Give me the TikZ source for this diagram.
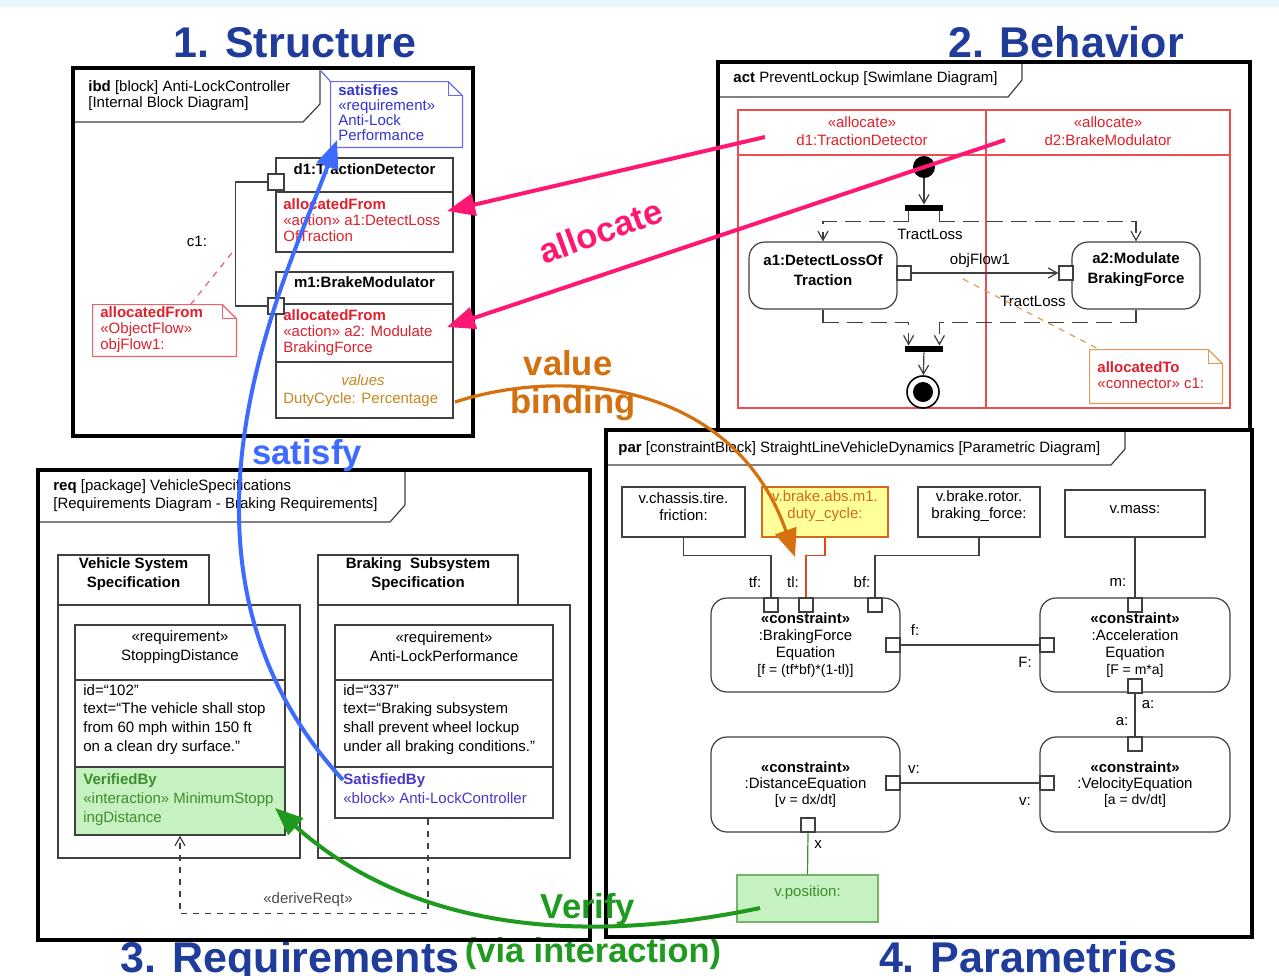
\documentclass[tikz,border=0pt]{standalone}
\usepackage{fontspec}
\setmainfont{Liberation Sans}
\usepackage{tikz}
\usetikzlibrary{arrows.meta, positioning, fit, calc}
\definecolor{hdblue}{HTML}{1F3C9B}
\definecolor{allocpink}{HTML}{FF1773}
\definecolor{bindorange}{HTML}{D4700E}
\definecolor{satblue}{HTML}{3D6BFF}
\definecolor{verifgreen}{HTML}{1E9A1E}
\definecolor{allocred}{HTML}{E0202C}
\definecolor{lanered}{HTML}{E85050}
\definecolor{noteblue}{HTML}{3535D0}
\definecolor{noteline}{HTML}{6A6AF0}
\definecolor{reqgreenfill}{HTML}{C5F2C0}
\definecolor{reqgreen}{HTML}{3E8E2E}
\definecolor{dutyfill}{HTML}{FFFF99}
\definecolor{dutyline}{HTML}{D2691E}
\definecolor{valtext}{HTML}{C8871E}
\definecolor{satbytext}{HTML}{4A38C8}
\definecolor{topband}{HTML}{E6F7FB}
\newcommand\dtxt{\fontsize{7.5}{8}\selectfont}
\newcommand\rtxt{\fontsize{7.5}{9.3}\selectfont}
\newcommand\bigtxt{\fontsize{17.3}{19}\selectfont\bfseries}
\newcommand\headtxt{\fontsize{21.5}{24}\selectfont\bfseries}
\newcommand\foldnote[2]{%
  \draw[#2, line width=0.6pt] (#1.north west) -- ([xshift=-7pt]#1.north east) -- ([yshift=-7pt]#1.north east) -- (#1.south east) -- (#1.south west) -- cycle;
  \draw[#2, line width=0.6pt] ([xshift=-7pt]#1.north east) |- ([yshift=-7pt]#1.north east);}
\tikzset{
  frm/.style={draw=black, line width=1.6pt, inner sep=0pt},
  cell/.style={draw=black!75, line width=0.6pt, inner sep=0pt, font=\dtxt, align=center},
  cblk/.style={cell, rounded corners=8pt},
  ctxt/.style={align=center, inner sep=0pt, font=\fontsize{7.5}{8.5}\selectfont},
  port/.style={draw=black!75, fill=white, line width=0.6pt, minimum size=7pt, inner sep=0pt},
  txt/.style={font=\dtxt, align=left, anchor=north west, inner sep=0pt},
  lbl/.style={font=\dtxt, inner sep=1pt},
  conn/.style={draw=black!75, line width=0.6pt},
  vee/.style={-{Straight Barb[length=4.5pt,width=5pt]}},
  flowdash/.style={dash pattern=on 8pt off 4pt},
  lane/.style={draw=lanered, line width=0.6pt, inner sep=0pt},
  notebox/.style={inner sep=0pt},
  bar/.style={fill=black, minimum width=19pt, minimum height=3pt, inner sep=0pt},
  bigarr/.style={line width=2pt, -{Triangle[length=14pt,width=11pt]}},
  heading/.style={font=\headtxt, text=hdblue, anchor=base},
  biglbl/.style={font=\bigtxt},
}
\begin{document}
\begin{tikzpicture}[x=0.5pt, y=-0.5pt]
\useasboundingbox (0,0) rectangle (1279,975);
\fill[white] (0,0) rectangle (1279,975);
\fill[topband] (0,0) rectangle (1279,7);

% headings
\node[heading] (hstruct) at (295,57) {1. Structure};
\node[heading] (hbeh) at (1066,57) {2. Behavior};
\node[heading] (hreq) at (290,972) {3. Requirements};
\node[heading, text=verifgreen, font=\fontsize{17.2}{19}\selectfont\bfseries] (hvia) at (593,962) {(via interaction)};
\node[heading] (hpar) at (1028,972) {4. Parametrics};

% ---- 1. Structure (ibd)
\node[frm, fit={(73,68)(473,436)}] (ibd) {};
\draw[conn] (75,122) -- (303,122) -- (320,104) -- (320,70);
\node[txt] (ibdtag) at (88,80) {\textbf{ibd} [block] Anti-LockController\\{[}Internal Block Diagram{]}};
\node[notebox, fit={(331,82)(462,147)}] (satnote) {};
\foldnote{satnote}{noteline}
\node[txt, text=noteblue, font=\fontsize{7.5}{7.6}\selectfont] at (338,84) {\textbf{satisfies}\\«requirement»\\Anti-Lock\\Performance};
\draw[noteline, line width=0.6pt] (satnote.north west) -- (321,71);

\node[cell, fit={(276,158)(453,192)}, font=\dtxt\bfseries] (d1h) {d1:TractionDetector};
\node[cell, fit={(276,192)(453,252)}] (d1c) {};
\node[txt, text=allocred] at (283,198) {\textbf{allocatedFrom}\\«action» a1:DetectLoss\\OfTraction};
\node[cell, fit={(276,272)(453,304)}, font=\dtxt\bfseries] (m1h) {m1:BrakeModulator};
\node[cell, fit={(276,304)(453,362)}] (m1c) {};
\node[txt, text=allocred] at (283,309) {\textbf{allocatedFrom}\\«action» a2: Modulate\\BrakingForce};
\node[cell, fit={(276,362)(453,418)}] (m1v) {};
\node[lbl, text=valtext, font=\dtxt\itshape] at (363,380) {values};
\node[txt, text=valtext] at (283,392) {DutyCycle: Percentage};
\node[port, minimum size=8pt] (d1port) at (276,182) {};
\node[port, minimum size=8pt] (m1port) at (276,306) {};
\draw[conn] (d1port.west) -- ++(-32,0) |- (m1port.west);
\node[lbl] at (197,241) {c1:};

\node[notebox, fit={(93,305)(236,356)}] (ofnote) {};
\foldnote{ofnote}{allocred!70}
\node[txt, text=allocred] at (100,306) {\textbf{allocatedFrom}\\«ObjectFlow»\\objFlow1:};
\coordinate (c1tap) at (235,249);
\draw[allocred!70, dashed, line width=0.6pt] ([xshift=13pt]ofnote.north) -- (c1tap);

% ---- 2. Behavior (act)
\node[frm, fit={(718,62)(1250,430)}] (act) {};
\draw[conn] (720,97) -- (1008,97) -- (1022,80) -- (1022,64);
\node[txt] at (733,71) {\textbf{act} PreventLockup [Swimlane Diagram]};
\node[lane, fit={(738,110)(1230,408)}] (lanes) {};
\draw[lanered, line width=0.6pt] (738,155) -- (1230,155) (986,110) -- (986,408);
\node[lbl, text=allocred, align=center, font=\fontsize{7.5}{9}\selectfont] (lane1) at (862,131) {«allocate»\\d1:TractionDetector};
\node[lbl, text=allocred, align=center, font=\fontsize{7.5}{9}\selectfont] (lane2) at (1108,131) {«allocate»\\d2:BrakeModulator};

\node[circle, fill=black, minimum size=11pt, inner sep=0pt] (init) at (924,167) {};
\node[bar] (fork) at (924,208) {};
\draw[conn, vee] (init) -- (fork);
\node[cblk, fit={(749,242)(897,309)}, font=\fontsize{7.5}{10}\selectfont\bfseries] (a1) {a1:DetectLossOf\\Traction};
\node[cblk, fit={(1072,242)(1200,309)}, font=\fontsize{7.5}{10}\selectfont\bfseries] (a2) {a2:Modulate\\BrakingForce};
\draw[conn] ([xshift=2pt]fork.south west) -- ++(0,10) coordinate (forkl);
\draw[conn, flowdash, vee] (forkl) -| (a1.north);
\draw[conn] ([xshift=-2pt]fork.south east) -- ++(0,10) coordinate (forkr);
\draw[conn, flowdash, vee] (forkr) -| (a2.north);
\node[lbl] at (930,234) {TractLoss};
\node[port] (a1pin) at (904,273) {};
\node[port] (a2pin) at (1066,273) {};
\draw[conn, vee] (a1pin.east) -- (a2pin.west);
\node[lbl] at (980,261) {objFlow1};
\node[lbl] at (1033,301) {TractLoss};

\node[bar] (join) at (924,349) {};
\draw[conn] (a1.south) -- ++(0,13) coordinate (joinl);
\draw[conn, flowdash, vee] (joinl) -| ([xshift=2pt]join.north west);
\draw[conn] (a2.south) -- ++(0,13) coordinate (joinr);
\draw[conn, flowdash, vee] (joinr) -| ([xshift=-2pt]join.north east);
\node[circle, draw=black, line width=0.8pt, minimum size=16pt, inner sep=0pt] (fin) at (923,392) {};
\node[circle, fill=black, minimum size=10pt, inner sep=0pt] (findot) at (fin) {};
\draw[conn, vee] (join) -- (fin);

\node[notebox, fit={(1090,350)(1222,403)}] (atnote) {};
\foldnote{atnote}{bindorange!70}
\node[txt, text=allocred] at (1097,361) {\textbf{allocatedTo}\\«connector» c1:};
\coordinate (c1flow) at (963,279);
\draw[bindorange!70, dashed, line width=0.6pt] (c1flow) -- ([xshift=5pt]atnote.north west);

% ---- 3. Requirements (req)
\node[frm, fit={(38,470)(590,940)}] (req) {};
\draw[conn] (40,522) -- (390,522) -- (405,505) -- (405,472);
\node[txt, font=\fontsize{7.5}{9}\selectfont] at (53,479) {\textbf{req} [package] VehicleSpecifications\\{[}Requirements Diagram - Braking Requirements{]}};

\node[cell, fit={(58,555)(209,605)}, font=\fontsize{7.5}{9.5}\selectfont\bfseries] (pkg1tab) {Vehicle System\\Specification};
\node[cell, fit={(58,605)(300,858)}] (pkg1) {};
\node[cell, fit={(75,625)(285,680)}, font=\fontsize{7.5}{9.5}\selectfont] (rq1h) {«requirement»\\StoppingDistance};
\node[cell, fit={(75,680)(285,767)}] (rq1t) {};
\node[txt, font=\rtxt] at (83,684) {id=“102”\\text=“The vehicle shall stop\\from 60 mph within 150 ft\\on a clean dry surface.”};
\node[cell, fit={(75,767)(285,835)}, fill=reqgreenfill] (rq1v) {};
\node[txt, text=reqgreen, font=\fontsize{7.5}{9.5}\selectfont] at (83,773) {\textbf{VerifiedBy}\\«interaction» MinimumStopp\\ingDistance};

\node[cell, fit={(318,555)(518,605)}, font=\fontsize{7.5}{9.5}\selectfont\bfseries] (pkg2tab) {Braking\ \ Subsystem\\Specification};
\node[cell, fit={(318,605)(570,858)}] (pkg2) {};
\node[cell, fit={(335,625)(553,680)}, font=\fontsize{7.5}{9.5}\selectfont] (rq2h) {«requirement»\\Anti-LockPerformance};
\node[cell, fit={(335,680)(553,767)}] (rq2t) {};
\node[txt, font=\rtxt] at (343,684) {id=“337”\\text=“Braking subsystem\\shall prevent wheel lockup\\under all braking conditions.”};
\node[cell, fit={(335,767)(553,818)}] (rq2s) {};
\node[txt, text=satbytext, font=\fontsize{7.5}{9.5}\selectfont] at (343,773) {\textbf{SatisfiedBy}\\«block» Anti-LockController};

\draw[conn, dashed, vee] ([xshift=-8pt]rq2s.south) -- ++(0,95) -| (rq1v.south);
\node[lbl, text=black!70] at (308,900) {«deriveReqt»};

% ---- 4. Parametrics (par)
\node[frm, fit={(606,430)(1252,937)}] (par) {};
\draw[conn] (608,465) -- (1111,465) -- (1125,449) -- (1125,432);
\node[txt] at (618,441) {\textbf{par} [constraintBlock] StraightLineVehicleDynamics [Parametric Diagram]};

\node[cell, fit={(622,487)(745,537)}, font=\fontsize{7.5}{8.5}\selectfont] (vfric) {v.chassis.tire.\\friction:};
\node[cell, fit={(762,487)(888,537)}, draw=dutyline, fill=dutyfill, text=dutyline, font=\fontsize{7.5}{8.5}\selectfont] (vduty) {v.brake.abs.m1.\\duty\_cycle:};
\node[cell, fit={(918,487)(1040,537)}, font=\fontsize{7.5}{8.5}\selectfont] (vbf) {v.brake.rotor.\\braking\_force:};
\node[cell, fit={(1065,490)(1205,537)}] (vmass) {v.mass:};

\node[cblk, fit={(711,598)(900,692)}] (bfe) {};
\node[ctxt] (bfetxt) at (bfe.center) {\textbf{«constraint»}\\:BrakingForce\\Equation\\{\fontsize{7}{8.5}\selectfont[f = (tf*bf)*(1-tl)]}};
\node[cblk, fit={(1040,598)(1230,692)}] (acc) {};
\node[ctxt] (acctxt) at (acc.center) {\textbf{«constraint»}\\:Acceleration\\Equation\\{\fontsize{7}{8.5}\selectfont[F = m*a]}};
\node[cblk, fit={(711,737)(900,832)}] (dist) {};
\node[ctxt, font=\fontsize{7.5}{8}\selectfont] (disttxt) at (dist.center) {\textbf{«constraint»}\\:DistanceEquation\\{\fontsize{7}{8}\selectfont[v = dx/dt]}};
\node[cblk, fit={(1040,737)(1230,832)}] (vel) {};
\node[ctxt, font=\fontsize{7.5}{8}\selectfont] (veltxt) at (vel.center) {\textbf{«constraint»}\\:VelocityEquation\\{\fontsize{7}{8}\selectfont[a = dv/dt]}};
\node[cell, fit={(737,875)(878,922)}, draw=reqgreen!70, fill=reqgreenfill, text=reqgreen] (vpos) {v.position:};

\node[port] (bfetf) at (771,605) {};
\node[port] (bfetl) at (806,605) {};
\node[port] (bfebf) at (875,605) {};
\node[port] (bfef) at (893,645) {};
\node[port] (accm) at (1135,605) {};
\node[port] (accF) at (1047,645) {};
\node[port] (acca) at (1135,686) {};
\node[port] (vela) at (1135,744) {};
\node[port] (velv) at (1047,783) {};
\node[port] (distv) at (893,783) {};
\node[port] (distx) at (808,825) {};

\draw[conn] (vfric.south) -- ++(0,18) -| (bfetf.north);
\draw[dutyline!70!red, line width=0.6pt] (vduty.south) -- ++(0,18) -| (bfetl.north);
\draw[conn] (vbf.south) -- ++(0,18) -| (bfebf.north);
\draw[conn] (vmass.south) -- (accm.north);
\draw[conn] (bfef.east) -- (accF.west);
\draw[conn] (acca.south) -- (vela.north);
\draw[conn] (distv.east) -- (velv.west);
\draw[reqgreen, line width=0.6pt] (distx.south) -- (vpos.north);
\node[lbl] at (755,582) {tf:};
\node[lbl] at (793,582) {tl:};
\node[lbl] at (862,582) {bf:};
\node[lbl] at (1118,582) {m:};
\node[lbl] at (915,630) {f:};
\node[lbl] at (1025,662) {F:};
\node[lbl] at (1148,705) {a:};
\node[lbl] at (1122,722) {a:};
\node[lbl] at (914,770) {v:};
\node[lbl] at (1025,802) {v:};
\node[lbl] at (818,845) {x};

% ---- cross-view relations
\coordinate (lane1src) at (765,137);
\coordinate (lane2src) at (1005,140);
\coordinate (d1tip) at (447,211);
\coordinate (m1tip) at (447,327);
\draw[bigarr, allocpink] (lane1src) -- (d1tip);
\draw[bigarr, allocpink] (lane2src) -- (m1tip);
\node[biglbl, text=allocpink, rotate=20] at (601,231) {allocate};

\coordinate (dutysrc) at (455,402);
\coordinate (dutytip) at (795,557);
\draw[bigarr, bindorange, line width=1.6pt] (dutysrc) .. controls (570,365) and (735,385) .. (dutytip);
\node[biglbl, text=bindorange] at (568,363) {value};
\node[biglbl, text=bindorange] at (573,405) {binding};

\coordinate (satsrc) at (343,780);
\coordinate (sattip) at (337,140);
\draw[bigarr, satblue] (satsrc) .. controls (140,560) and (290,270) .. (sattip);
\node[biglbl, text=satblue] at (307,456) {satisfy};

\coordinate (possrc) at (760,908);
\coordinate (vertip) at (275,808);
\draw[bigarr, verifgreen] (possrc) .. controls (560,950) and (400,920) .. (vertip);
\node[biglbl, text=verifgreen] at (588,910) {Verify};
\end{tikzpicture}
\end{document}
